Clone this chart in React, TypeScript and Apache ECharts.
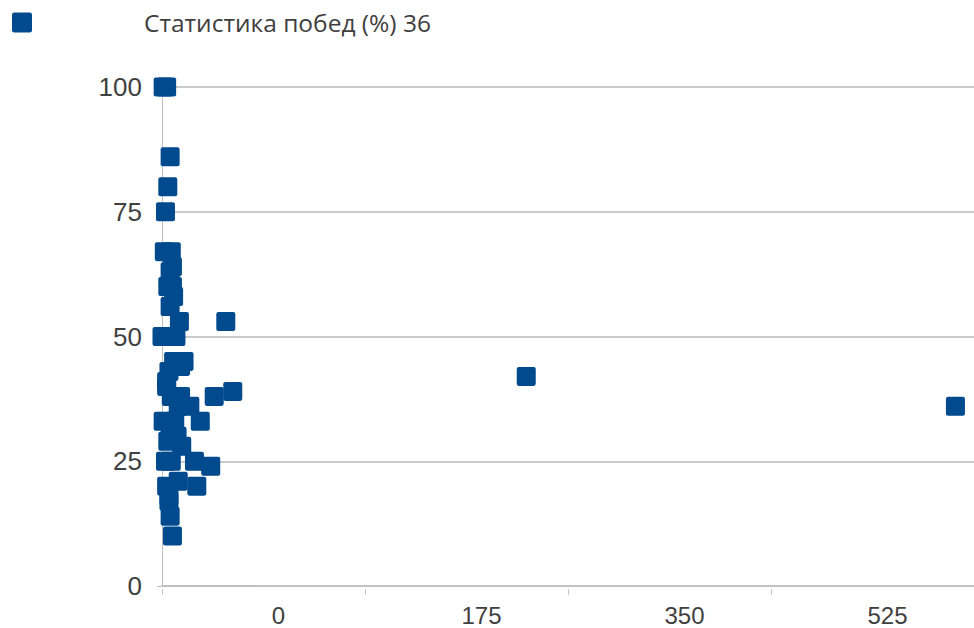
import React, { useEffect, useRef } from "react";
import * as echarts from "echarts";

const seriesName = "Статистика побед (%) 36";
const xCategoryLabels = ["0", "175", "350", "525"];
const yTicks = { min: 0, max: 100, interval: 25 };
const xRange = { min: 0, max: 700 };

const gamesPlayed = [
  1, 4, 7, 5, 3, 2, 8, 9, 7, 5, 9, 10, 7, 15, 55, 0, 7, 12, 10, 19, 16, 6, 4, 4,
  8, 16, 45, 61, 14, 24, 1, 11, 33, 7, 13, 5, 17, 3, 8, 28, 42, 4, 14, 30, 6, 6,
  7, 9, 314, 684,
];
const winRate = [
  100, 100, 86, 80, 75, 67, 67, 64, 63, 60, 60, 58, 56, 53, 53, 50, 50, 50, 45,
  45, 44, 43, 41, 40, 38, 38, 38, 39, 36, 36, 33, 33, 33, 31, 30, 29, 28, 25, 25,
  25, 24, 20, 21, 20, 17, 18, 14, 10, 42, 36,
];

const squareSymbol =
  "path://M2,0 H16 Q18,0 18,2 V16 Q18,18 16,18 H2 Q0,18 0,16 V2 Q0,0 2,0 Z";

export default function App() {
  const ref = useRef<HTMLDivElement>(null);
  useEffect(() => {
    if (!ref.current) return;
    const chart = echarts.init(ref.current, undefined, { renderer: "svg" });
    const points = gamesPlayed.map((x, i) => [x, winRate[i]]);
    chart.setOption({
      animation: false,
      backgroundColor: "#ffffff",
      legend: {
        left: 7,
        top: 5,
        padding: 5,
        itemWidth: 20,
        itemHeight: 20,
        icon: squareSymbol,
        data: [seriesName],
        textStyle: {
          fontFamily: "'Open Sans', 'Noto Sans', sans-serif",
          fontSize: 24.5,
          color: "#404040",
          padding: [0, 0, 0, 107],
        },
      },
      grid: { left: 162, right: 0, top: 87, bottom: 42, containLabel: false },
      xAxis: [
        {
          type: "value",
          min: xRange.min,
          max: xRange.max,
          interval: 175,
          axisLine: { show: true, lineStyle: { color: "#bfbfbf", width: 1.5 } },
          axisTick: { show: false },
          axisLabel: { show: false },
          splitLine: { show: false },
        },
        {
          type: "category",
          position: "bottom",
          offset: 3,
          data: xCategoryLabels,
          boundaryGap: true,
          axisLine: { show: false },
          axisTick: { show: true, length: 6, lineStyle: { color: "#c8c8c8", width: 1 } },
          axisLabel: {
            margin: 14,
            fontSize: 24,
            color: "#404040",
            padding: [0, 0, 0, 30],
            fontFamily: "'Liberation Sans Narrow', 'Arial Narrow', 'Liberation Sans', sans-serif",
          },
          splitLine: { show: false },
        },
      ],
      yAxis: {
        type: "value",
        min: yTicks.min,
        max: yTicks.max,
        interval: yTicks.interval,
        axisLine: { show: true, lineStyle: { color: "#bfbfbf", width: 1 } },
        axisTick: { show: true, inside: false, length: 5, lineStyle: { color: "#bfbfbf" } },
        axisLabel: {
          margin: 20,
          fontSize: 26,
          color: "#404040",
          fontFamily: "'Liberation Sans', Arial, sans-serif",
        },
        splitLine: { show: true, lineStyle: { color: "#b8b8b8", width: 1.5 } },
      },
      series: [
        {
          name: seriesName,
          type: "scatter",
          xAxisIndex: 0,
          symbol: squareSymbol,
          symbolSize: 19,
          itemStyle: { color: "#004a8d", opacity: 1 },
          data: points,
          clip: false,
        },
      ],
    });
    return () => chart.dispose();
  }, []);
  return <div ref={ref} style={{ width: 974, height: 628, position: "absolute", left: 0, top: 0 }} />;
}
